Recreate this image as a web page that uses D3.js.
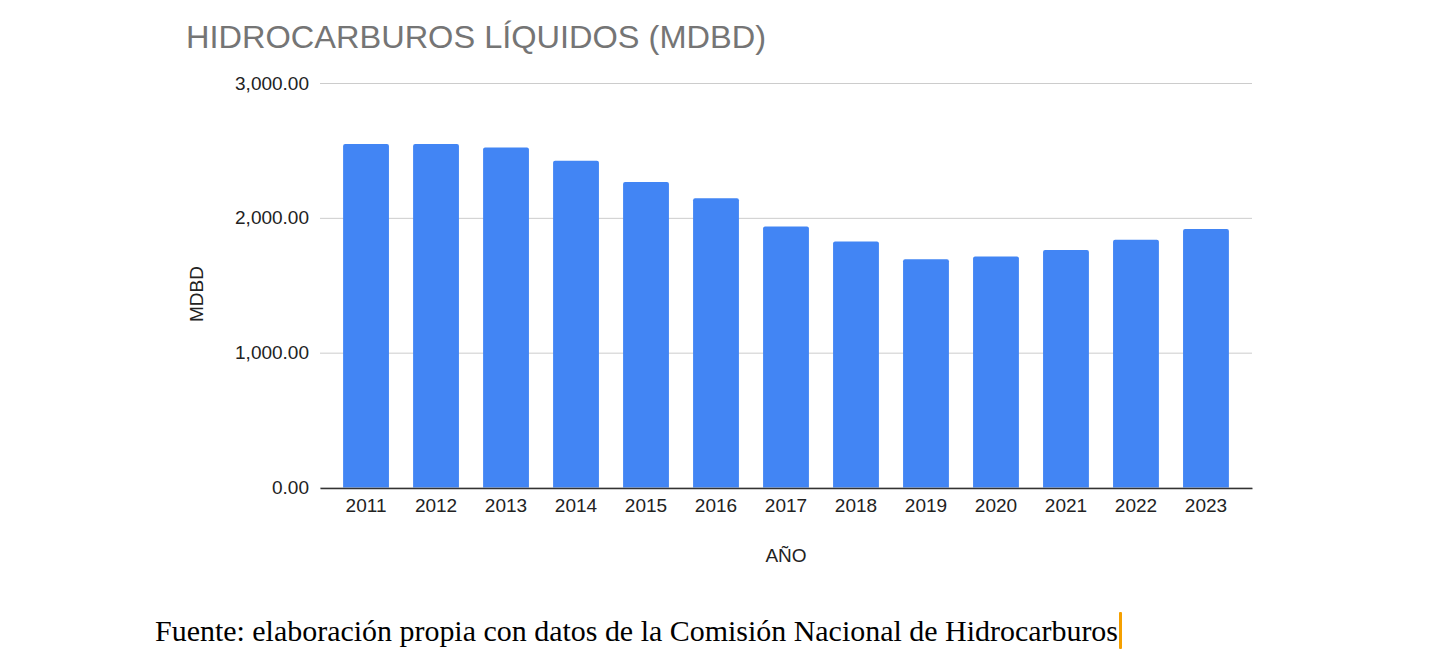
<!DOCTYPE html>
<html>
<head>
<meta charset="utf-8">
<script src="https://cdn.jsdelivr.net/npm/d3@7"></script>
<style>
  body { margin: 0; background: #fff; }
  text { font-family: "Liberation Sans", Arial, sans-serif; }
</style>
</head>
<body>
<div id="chart"></div>
<script>
// Data (MDBD per year)
var years = ["2011", "2012", "2013", "2014", "2015", "2016", "2017",
             "2018", "2019", "2020", "2021", "2022", "2023"];
var values = [2547, 2547, 2522, 2423, 2265, 2146, 1935,
              1824, 1693, 1713, 1762, 1837, 1918];
var yTicks = [0, 1000, 2000, 3000];

var width = 1434, height = 670;

var svg = d3.select("#chart")
  .append("svg")
  .attr("width", width)
  .attr("height", height);

// Plot area
var plotLeft = 320, plotRight = 1252, plotTop = 83, plotBottom = 487.5;

var x = d3.scaleBand()
  .domain(years)
  .range([plotLeft, plotRight])
  .paddingInner(0.345)
  .paddingOuter(0.33);

var y = d3.scaleLinear()
  .domain([0, 3000])
  .range([plotBottom, plotTop]);

// Title
svg.append("text")
  .attr("x", 186)
  .attr("y", 48)
  .attr("fill", "#757575")
  .style("font-size", "32px")
  .attr("textLength", 580)
  .attr("lengthAdjust", "spacingAndGlyphs")
  .text("HIDROCARBUROS LÍQUIDOS (MDBD)");

// Gridlines + y labels
var yAxis = d3.axisLeft(y)
  .tickValues(yTicks)
  .tickSize(-(plotRight - plotLeft))
  .tickPadding(11)
  .tickFormat(d3.format(",.2f"));

var gy = svg.append("g")
  .attr("transform", "translate(" + plotLeft + ",0)")
  .call(yAxis);
gy.select(".domain").remove();
gy.selectAll(".tick line").attr("stroke", "#cccccc").attr("stroke-width", 1);
gy.selectAll(".tick text")
  .attr("fill", "#222")
  .style("font-size", "19px")
  .style("font-family", "Liberation Sans, Arial, sans-serif");

// Bars
svg.append("g")
  .selectAll("path")
  .data(values)
  .enter()
  .append("path")
  .attr("fill", "#4285f4")
  .attr("d", function (d, i) {
    var x0 = x(years[i]), w = x.bandwidth();
    var y0 = y(d), y1 = y(0), r = 2;
    return "M" + x0 + "," + y1 +
      "V" + (y0 + r) +
      "Q" + x0 + "," + y0 + " " + (x0 + r) + "," + y0 +
      "H" + (x0 + w - r) +
      "Q" + (x0 + w) + "," + y0 + " " + (x0 + w) + "," + (y0 + r) +
      "V" + y1 + "Z";
  });

// X axis
var gx = svg.append("g")
  .attr("transform", "translate(0," + (plotBottom + 0.5) + ")")
  .call(d3.axisBottom(x).tickSize(0).tickPadding(11));
gx.select(".domain")
  .attr("stroke", "#333")
  .attr("stroke-width", 1.5);
gx.selectAll(".tick text")
  .attr("fill", "#222")
  .style("font-size", "19px")
  .style("font-family", "Liberation Sans, Arial, sans-serif");

// Axis titles
svg.append("text")
  .attr("x", (plotLeft + plotRight) / 2)
  .attr("y", 562)
  .attr("text-anchor", "middle")
  .attr("fill", "#222")
  .style("font-size", "19px")
  .text("AÑO");

svg.append("text")
  .attr("transform", "translate(203,294) rotate(-90)")
  .attr("text-anchor", "middle")
  .attr("fill", "#222")
  .style("font-size", "19px")
  .text("MDBD");

// Source note
svg.append("text")
  .attr("x", 155)
  .attr("y", 641)
  .attr("fill", "#000")
  .style("font-family", "Liberation Serif, 'Times New Roman', serif")
  .style("font-size", "30px")
  .attr("textLength", 963)
  .attr("lengthAdjust", "spacingAndGlyphs")
  .text("Fuente: elaboración propia con datos de la Comisión Nacional de Hidrocarburos");

// text cursor
svg.append("rect")
  .attr("x", 1119)
  .attr("y", 612)
  .attr("width", 3)
  .attr("height", 37)
  .attr("rx", 1)
  .attr("fill", "#f5a000");
</script>
</body>
</html>
